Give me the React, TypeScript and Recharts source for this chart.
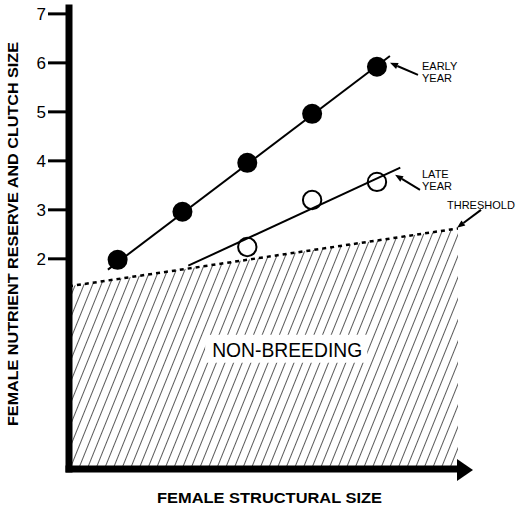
import React from 'react'
import {
  ComposedChart,
  XAxis,
  YAxis,
  Scatter,
  Area,
  ReferenceLine,
  ReferenceDot,
  ReferenceArea,
} from 'recharts'

// structural size (arbitrary units along the x axis)
const sizes = [0.75, 1.75, 2.75, 3.75, 4.75]
const earlyYear = [1.98, 2.96, 3.96, 4.96, 5.92]
const lateSizes = [2.75, 3.75, 4.75]
const lateYear = [2.24, 3.2, 3.57]

// fitted lines, two end points each
const earlyFitX = [0.6, 4.95]
const earlyFitY = [1.78, 6.14]
const lateFitX = [1.84, 5.11]
const lateFitY = [1.86, 3.86]

// threshold below which females do not breed
const thresholdX = [0, 6]
const thresholdY = [1.44, 2.62]

const yTicks = [2, 3, 4, 5, 6, 7]
const xDomain = [0, 6]
const yDomain = [-2.29, 7.12]

const toPts = (xs: number[], ys: number[]) => xs.map((x, i) => ({ x, y: ys[i] }))

const earlyPts = toPts(sizes, earlyYear)
const latePts = toPts(lateSizes, lateYear)
const earlyFit = toPts(earlyFitX, earlyFitY)
const lateFit = toPts(lateFitX, lateFitY)
const threshold = toPts(thresholdX, thresholdY)

const FONT = '"Liberation Sans", Arial, Helvetica, sans-serif'

// annotations: arrow tail -> tip, in data units
const annotations = [
  { tail: { x: 5.383, y: 5.755 }, tip: { x: 4.951, y: 6.0 }, lines: ['EARLY', 'YEAR'], dx: 4, dy: -5 },
  { tail: { x: 5.414, y: 3.408 }, tip: { x: 5.029, y: 3.714 }, lines: ['LATE', 'YEAR'], dx: 2, dy: -12 },
  { tail: { x: 6.355, y: 3.0 }, tip: { x: 5.985, y: 2.633 }, lines: ['THRESHOLD'], dx: -34, dy: -1 },
]

const Arrow = (p: any) => {
  const { x1, y1, x2, y2, lines, dx, dy } = p
  const ang = Math.atan2(y2 - y1, x2 - x1)
  const len = 8
  const w = 3.2
  const bx = x2 - Math.cos(ang) * len
  const by = y2 - Math.sin(ang) * len
  const px = -Math.sin(ang) * w
  const py = Math.cos(ang) * w
  return (
    <g>
      <line x1={x1} y1={y1} x2={bx} y2={by} stroke="#000" strokeWidth={2} />
      <polygon points={`${x2},${y2} ${bx + px},${by + py} ${bx - px},${by - py}`} fill="#000" />
      <text x={x1 + dx} y={y1 + dy} fontFamily={FONT} fontSize={11} fill="#000">
        {lines.map((l: string, i: number) => (
          <tspan key={l + i} x={x1 + dx} dy={i === 0 ? 0 : 12}>
            {l}
          </tspan>
        ))}
      </text>
    </g>
  )
}

const FilledDot = (p: any) => <circle cx={p.cx} cy={p.cy} r={10} fill="#000" />
const OpenDot = (p: any) => <circle cx={p.cx} cy={p.cy} r={9.2} fill="none" stroke="#000" strokeWidth={2} />
const NoDot = () => <g />

export default function App() {
  return (
    <div style={{ position: 'absolute', left: 0, top: 0, width: 520, height: 508, background: '#fff' }}>
      <ComposedChart width={520} height={508} margin={{ top: 8, right: 62, bottom: 0, left: 0 }}>
        <defs>
          <pattern id="hatch" width={8} height={8} patternUnits="userSpaceOnUse" patternTransform="rotate(22)">
            <line x1={0} y1={0} x2={0} y2={8} stroke="#000" strokeWidth={1.3} />
          </pattern>
        </defs>
        <XAxis
          type="number"
          dataKey="x"
          domain={xDomain}
          allowDataOverflow
          height={39}
          tick={false}
          tickLine={false}
          axisLine={{ stroke: '#000', strokeWidth: 7, strokeLinecap: 'square' }}
          label={{
            content: (props: any) => {
              const vb = props.viewBox
              return (
                <text
                  x={vb.x + vb.width / 2 + 6}
                  y={vb.y + 34}
                  textAnchor="middle"
                  fontFamily={FONT}
                  fontWeight="bold"
                  fontSize={14}
                  textLength={225}
                  lengthAdjust="spacingAndGlyphs"
                  fill="#000"
                >
                  FEMALE STRUCTURAL SIZE
                </text>
              )
            },
          }}
        />
        <YAxis
          type="number"
          dataKey="y"
          domain={yDomain}
          allowDataOverflow
          width={69}
          ticks={yTicks}
          tickSize={21}
          tickMargin={2}
          tickLine={{ stroke: '#000', strokeWidth: 3 }}
          axisLine={{ stroke: '#000', strokeWidth: 7, strokeLinecap: 'square' }}
          tick={{ fill: '#000', fontSize: 17, fontFamily: FONT }}
          label={{
            content: () => (
              <text
                x={18}
                y={234}
                transform="rotate(-90 18 234)"
                textAnchor="middle"
                fontFamily={FONT}
                fontWeight="bold"
                fontSize={14}
                textLength={384}
                lengthAdjust="spacingAndGlyphs"
                fill="#000"
              >
                FEMALE NUTRIENT RESERVE AND CLUTCH SIZE
              </text>
            ),
          }}
        />
        <Area
          data={threshold}
          dataKey="y"
          type="linear"
          baseValue={yDomain[0]}
          stroke="#000"
          strokeWidth={2.5}
          strokeDasharray="4 4"
          fill="url(#hatch)"
          fillOpacity={1}
          dot={false}
          activeDot={false}
          isAnimationActive={false}
        />
        <ReferenceArea
          x1={2.1}
          x2={4.6}
          y1={-0.12}
          y2={0.45}
          fill="#fff"
          fillOpacity={1}
          stroke="none"
          label={{
            content: (props: any) => {
              const vb = props.viewBox
              return (
                <text
                  x={vb.x + vb.width / 2 + 1}
                  y={vb.y + vb.height / 2 + 8}
                  textAnchor="middle"
                  fontFamily={FONT}
                  fontSize={20}
                  textLength={150}
                  lengthAdjust="spacingAndGlyphs"
                  fill="#000"
                >
                  NON-BREEDING
                </text>
              )
            },
          }}
        />
        <Scatter data={earlyFit} shape={NoDot} line={{ stroke: '#000', strokeWidth: 2 }} isAnimationActive={false} />
        <Scatter data={lateFit} shape={NoDot} line={{ stroke: '#000', strokeWidth: 2 }} isAnimationActive={false} />
        <Scatter data={earlyPts} shape={FilledDot} isAnimationActive={false} />
        <Scatter data={latePts} shape={OpenDot} isAnimationActive={false} />
        <ReferenceDot
          x={xDomain[1]}
          y={yDomain[0]}
          r={0}
          ifOverflow="visible"
          shape={(p: any) => (
            <polygon points={`${p.cx - 1},${p.cy - 10} ${p.cx + 15},${p.cy + 1} ${p.cx - 1},${p.cy + 12}`} fill="#000" />
          )}
        />
        {annotations.map((a, i) => (
          <ReferenceLine
            key={i}
            segment={[a.tail, a.tip]}
            ifOverflow="visible"
            shape={(p: any) => <Arrow {...p} lines={a.lines} dx={a.dx} dy={a.dy} />}
          />
        ))}
      </ComposedChart>
    </div>
  )
}
